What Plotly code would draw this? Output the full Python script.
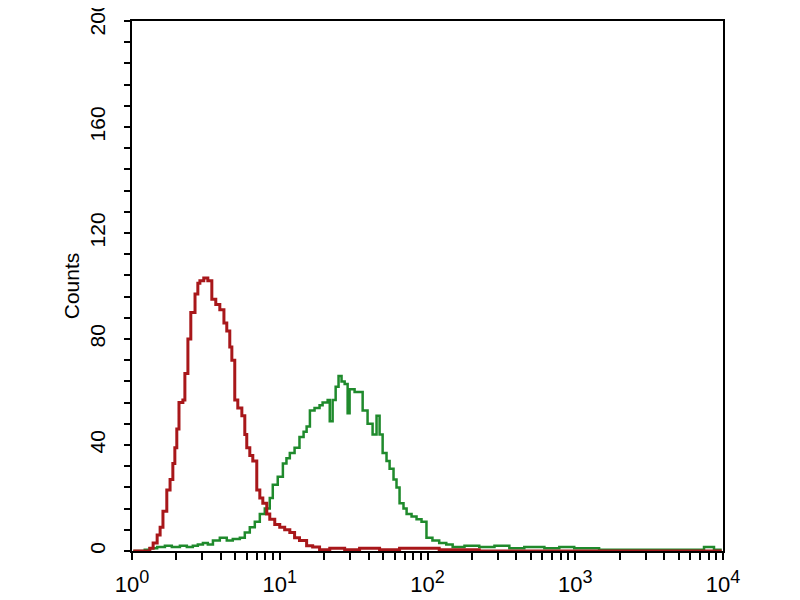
import plotly.graph_objects as go

# Red histogram (control)
red_x = [1.02, 1.13, 1.32, 1.39, 1.48, 1.55, 1.62, 1.72, 1.81, 1.89, 1.95, 2.01, 2.08, 2.21, 2.28,
         2.39, 2.50, 2.67, 2.79, 2.88, 3.06, 3.26, 3.47, 3.69, 3.93, 4.19, 4.38, 4.59, 4.74, 4.96,
         5.20, 5.54, 5.80, 5.98, 6.27, 6.57, 6.99, 7.33, 7.68, 8.17, 8.56, 9.25, 10.0, 10.8, 11.7,
         12.6, 13.6, 15.2, 16.7, 18.6, 21.8, 27.5, 34.7, 47.4, 64.7, 88.3, 120, 224, 9800]
red_y = [0, 0, 1, 3, 6, 9, 15, 23, 27, 33, 39, 46, 56, 57, 67,
         80, 90, 97, 101, 102, 103, 102, 95, 93, 91, 86, 83, 77, 72, 57,
         54, 51, 44, 39, 36, 34, 23, 20, 18, 14, 12, 10, 9, 8, 7,
         5, 4, 2, 1.5, 0.5, 1, 0.5, 1, 0.5, 1, 1, 0.5, 0, 0]

# Green histogram (sample)
green_x = [1.02, 1.22, 1.32, 1.48, 1.67, 1.86, 2.11, 2.35, 2.58, 2.79, 3.02, 3.26, 3.53, 3.93, 4.38,
           4.81, 5.37, 5.80, 6.27, 6.78, 7.33, 7.92, 8.56, 8.97, 9.69, 10.5, 11.1, 11.7, 12.6, 13.6,
           14.5, 15.2, 16.0, 17.2, 18.6, 19.5, 21.1, 21.8, 22.8, 23.9, 25.0, 26.2, 27.5, 28.8, 29.7,
           32.1, 34.7, 36.4, 39.3, 42.5, 45.2, 47.4, 49.7, 52.8, 55.4, 58.9, 61.7, 64.7, 68.8, 72.2,
           78.0, 84.3, 91.1, 98.4, 108, 120, 134, 148, 178, 224, 284, 358, 452, 618, 780,
           984, 1450, 2320, 3700, 5890, 7440, 8690, 9800]
green_y = [0, 0.5, 1, 1.5, 2, 1.5, 2, 1.5, 2, 2.5, 3, 2.5, 4, 5, 4,
           4.5, 5, 7, 9, 11, 14, 16, 20, 25, 28, 33, 35, 37, 39, 43,
           45, 47, 53, 54, 55, 56, 57, 49, 57, 62, 66, 64, 63, 52, 61,
           60, 60, 53, 48, 44, 51, 44, 37, 34, 31, 27, 24, 18, 16, 14,
           13, 12, 11, 5, 4, 3, 2.5, 1.5, 2, 1.5, 2, 1, 1.5, 1, 1.5,
           1, 0.5, 0.5, 0.5, 0.5, 1.5, 0.5, 0.5]

SUP = "<sup><span style='font-size:18px'>{}</span></sup>"
x_tickvals = [1, 2, 3, 4, 5, 6, 7, 8, 9,
              10, 20, 30, 40, 50, 60, 70, 80, 90,
              100, 200, 300, 400, 500, 600, 700, 800, 900,
              1000, 2000, 3000, 4000, 5000, 6000, 7000, 8000, 9000, 10000]
x_ticktext = ["10" + SUP.format(0), "", "", "", "", "", "", "", "",
              "10" + SUP.format(1), "", "", "", "", "", "", "", "",
              "10" + SUP.format(2), "", "", "", "", "", "", "", "",
              "10" + SUP.format(3), "", "", "", "", "", "", "", "", "10" + SUP.format(4)]

y_tickvals = [0, 8, 16, 24, 32, 40, 48, 56, 64, 72, 80, 88, 96, 104, 112, 120,
              128, 136, 144, 152, 160, 168, 176, 184, 192, 200]
y_ticktext = ["0", "", "", "", "", "40", "", "", "", "", "80", "", "", "", "", "120",
              "", "", "", "", "160", "", "", "", "", "200"]

fig = go.Figure()
fig.add_trace(go.Scatter(x=green_x, y=green_y, mode="lines", line_shape="hv",
                         line=dict(color="#1f8a2c", width=2.5), showlegend=False))
fig.add_trace(go.Scatter(x=red_x, y=red_y, mode="lines", line_shape="hv",
                         line=dict(color="#a8171a", width=3), showlegend=False))

fig.update_layout(
    width=800, height=600,
    margin=dict(l=124, r=85, t=13, b=57, autoexpand=False),
    paper_bgcolor="white", plot_bgcolor="white",
    font=dict(family="Liberation Sans, Arial, sans-serif", color="black"),
    xaxis=dict(type="log", range=[0, 4], tickmode="array", tickvals=x_tickvals,
               ticktext=x_ticktext, ticks="outside", ticklen=7, tickwidth=2,
               tickcolor="black", showline=True, linecolor="black", linewidth=2,
               mirror=True, showgrid=False, zeroline=False, automargin=False,
               tickfont=dict(size=22), tickangle=0, ticklabelstandoff=6,
               ticklabeloverflow="allow"),
    yaxis=dict(range=[0, 200], tickmode="array", tickvals=y_tickvals,
               ticktext=y_ticktext, ticks="outside", ticklen=6, tickwidth=2,
               tickcolor="black", showline=True, linecolor="black", linewidth=2,
               mirror=True, showgrid=False, zeroline=False, automargin=False,
               tickfont=dict(size=21), tickangle=-90, ticklabelstandoff=11,
               ticklabeloverflow="allow",
               title=dict(text="Counts", font=dict(size=21), standoff=0)),
)

fig.write_html("out.html")
